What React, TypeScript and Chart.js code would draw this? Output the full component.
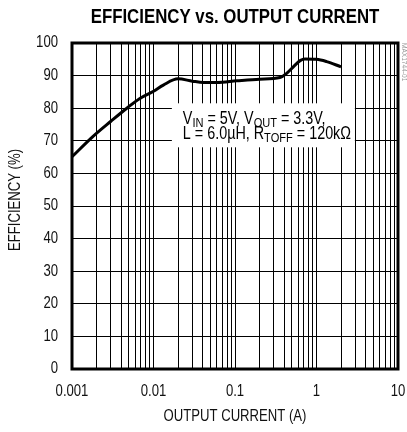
import React, { useEffect, useRef } from "react";
import { Chart, registerables } from "chart.js";

Chart.register(...registerables);

const current = [0.001, 0.0018, 0.003, 0.0047, 0.0068, 0.01, 0.0132, 0.02, 0.03, 0.041, 0.06, 0.105, 0.2, 0.356, 0.43, 0.53, 0.63, 0.72, 1.0, 1.33, 2.0];
const efficiency = [65.1, 71.3, 76.0, 80.0, 83.0, 85.2, 87.1, 89.0, 88.3, 87.9, 87.9, 88.4, 88.9, 89.4, 90.7, 92.9, 94.6, 95.1, 95.0, 94.3, 92.7];

const decades = [0.001, 0.01, 0.1, 1, 10];
const decadeLabels = ["0.001", "0.01", "0.1", "1", "10"];
const minorMultipliers = [2, 3, 4, 5, 6, 7, 8, 9];
const yTicks = [0, 10, 20, 30, 40, 50, 60, 70, 80, 90, 100];

const title = "EFFICIENCY vs. OUTPUT CURRENT";
const xTitle = "OUTPUT CURRENT (A)";
const yTitle = "EFFICIENCY (%)";
const sideMark = "MAX1744-01";
const annotX = 0.0168;
const annotY = 81.5;

const FONT = "'Liberation Sans', Arial, sans-serif";
const NARROW = 0.82;
const INK = "#111";

type Run = [string, boolean];

export default function App() {
  const ref = useRef<HTMLCanvasElement | null>(null);
  useEffect(() => {
    if (!ref.current) return;
    const text = (
      ctx: CanvasRenderingContext2D,
      s: string,
      x: number,
      y: number,
      font: string,
      align: CanvasTextAlign,
      base: CanvasTextBaseline = "middle",
      rot = 0
    ) => {
      ctx.save();
      ctx.translate(x, y);
      if (rot) ctx.rotate(rot);
      ctx.scale(NARROW, 1);
      ctx.font = font;
      ctx.textAlign = align;
      ctx.textBaseline = base;
      ctx.fillText(s, 0, 0);
      ctx.restore();
    };
    const decorations = {
      id: "decorations",
      afterDraw(chart: any) {
        const ctx = chart.ctx as CanvasRenderingContext2D;
        const a = chart.chartArea;
        const xs = chart.scales.x;
        const ys = chart.scales.y;
        const cx = (a.left + a.right) / 2;
        const cy = (a.top + a.bottom) / 2;
        ctx.save();
        ctx.fillStyle = "#000";
        text(ctx, title, cx, 17, `bold 20.5px ${FONT}`, "center");
        ctx.fillStyle = INK;
        // y tick labels
        yTicks.forEach((v) => text(ctx, String(v), a.left - 14, ys.getPixelForValue(v), `16px ${FONT}`, "right"));
        // x tick labels
        decades.forEach((d, i) => text(ctx, decadeLabels[i], xs.getPixelForValue(d), a.bottom + 23, `16px ${FONT}`, "center"));
        // axis titles
        text(ctx, xTitle, cx, a.bottom + 48, `16px ${FONT}`, "center");
        text(ctx, yTitle, 15.5, cy - 6, `16px ${FONT}`, "center", "middle", -Math.PI / 2);
        // annotation box
        const bx = xs.getPixelForValue(annotX);
        const by = ys.getPixelForValue(annotY);
        ctx.fillStyle = "#fff";
        ctx.fillRect(bx, by, 183, 44);
        ctx.fillStyle = "#000";
        const runs = (segs: Run[], x: number, y: number) => {
          let px = x;
          for (const [t, sub] of segs) {
            const f = sub ? `13.5px ${FONT}` : `17.5px ${FONT}`;
            text(ctx, t, px, sub ? y + 3 : y, f, "left", "alphabetic");
            ctx.font = f;
            px += ctx.measureText(t).width * NARROW;
          }
        };
        runs([["V", false], ["IN", true], [" = 5V, V", false], ["OUT", true], [" = 3.3V,", false]], bx + 11, by + 20.5);
        runs([["L = 6.0µH, R", false], ["TOFF", true], [" = 120kΩ", false]], bx + 11, by + 35.5);
        // frame
        ctx.strokeStyle = "#000";
        ctx.lineWidth = 3;
        ctx.strokeRect(a.left, a.top, a.right - a.left, a.bottom - a.top);
        // side mark
        ctx.fillStyle = "#999";
        text(ctx, sideMark, 400, a.top, `8px ${FONT}`, "left", "bottom", Math.PI / 2);
        ctx.restore();
      },
    };
    const chart = new Chart(ref.current, {
      type: "line",
      data: {
        datasets: [
          {
            data: current.map((c, i) => ({ x: c, y: efficiency[i] })),
            borderColor: "#000",
            borderWidth: 3,
            pointRadius: 0,
            cubicInterpolationMode: "monotone",
            fill: false,
          },
        ],
      },
      options: {
        animation: false,
        responsive: false,
        maintainAspectRatio: false,
        layout: { padding: { top: 43, right: 9, left: 0, bottom: 0 } },
        plugins: { legend: { display: false }, tooltip: { enabled: false }, title: { display: false } },
        scales: {
          x: {
            type: "logarithmic",
            min: 0.001,
            max: 10,
            afterBuildTicks(scale: any) {
              const t: any[] = [];
              decades.forEach((d, i) => {
                t.push({ value: d, major: true });
                if (i < decades.length - 1) minorMultipliers.forEach((m) => t.push({ value: d * m }));
              });
              scale.ticks = t;
            },
            afterFit(scale: any) {
              scale.height = 63;
            },
            grid: { color: "#000", lineWidth: 1, drawTicks: false },
            border: { display: false },
            ticks: { display: false, autoSkip: false },
          },
          y: {
            min: 0,
            max: 100,
            afterBuildTicks(scale: any) {
              scale.ticks = yTicks.map((v) => ({ value: v }));
            },
            afterFit(scale: any) {
              scale.width = 72;
            },
            grid: { color: "#000", lineWidth: 1, drawTicks: false },
            border: { display: false },
            ticks: { display: false },
          },
        },
      },
      plugins: [decorations],
    } as any);
    return () => chart.destroy();
  }, []);
  return (
    <div style={{ position: "fixed", left: 0, top: 0, width: 407, height: 432, background: "#fff" }}>
      <canvas ref={ref} width={407} height={432} style={{ width: 407, height: 432, display: "block" }} />
    </div>
  );
}
